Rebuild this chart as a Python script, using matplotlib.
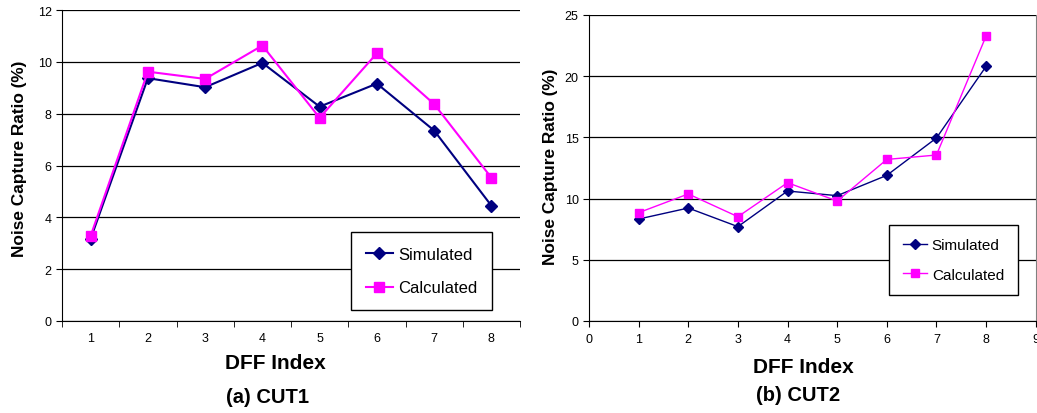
import matplotlib
matplotlib.use('Agg')
import matplotlib.pyplot as plt

# data
dff = [1, 2, 3, 4, 5, 6, 7, 8]
cut1_sim = [3.17, 9.37, 9.02, 9.96, 8.27, 9.16, 7.35, 4.45]
cut1_calc = [3.28, 9.62, 9.34, 10.63, 7.84, 10.33, 8.37, 5.53]
cut2_sim = [8.33, 9.23, 7.71, 10.62, 10.24, 11.9, 14.95, 20.8]
cut2_calc = [8.85, 10.38, 8.52, 11.3, 9.8, 13.2, 13.56, 23.28]

plt.rcParams['font.family'] = ['Liberation Sans', 'DejaVu Sans']
navy = '#000080'
pink = '#FF00FF'

fig = plt.figure(figsize=(10.37, 4.14), dpi=100)

# (a) CUT1 - category style axis
ax1 = fig.add_axes([62/1037, 92/414, 458/1037, 311/414])
ax1.plot(dff, cut1_sim, color=navy, lw=1.5, marker='D', ms=6.5, label='Simulated', zorder=3)
ax1.plot(dff, cut1_calc, color=pink, lw=1.5, marker='s', ms=6.5, label='Calculated', zorder=3)
ax1.set_xlim(0.5, 8.5)
ax1.set_ylim(0, 12)
ax1.set_yticks(range(0, 13, 2))
ax1.set_xticks(dff)
ax1.set_xticks([x + 0.5 for x in range(0, 9)], minor=True)
ax1.tick_params(axis='x', which='major', length=0, labelsize=9, pad=8)
ax1.tick_params(axis='x', which='minor', length=4, direction='out')
ax1.tick_params(axis='y', length=4, labelsize=9)
ax1.grid(axis='y', color='black', lw=0.9)
ax1.set_axisbelow(True)
for s in ['top', 'right']:
    ax1.spines[s].set_visible(False)
ax1.set_ylabel('Noise Capture Ratio (%)', fontsize=12.4, fontweight='bold')
ax1.yaxis.set_label_coords(-0.076, 0.524)
ax1.set_xlabel('DFF Index', fontsize=15, fontweight='bold')
ax1.xaxis.set_label_coords(0.465, -0.103)
leg1 = ax1.legend(loc='upper right', bbox_to_anchor=(0.939, 0.286), fancybox=False,
                  edgecolor='black', framealpha=1, fontsize=12, handlelength=1.6,
                  borderpad=0.9, labelspacing=1.1, handletextpad=0.3, borderaxespad=0)
leg1.get_frame().set_linewidth(1.0)
fig.text(267/1037, 1 - 397.5/414, '(a) CUT1', ha='center', va='center', fontsize=14.5, fontweight='bold')

# (b) CUT2 - value axis
ax2 = fig.add_axes([589/1037, 92/414, 446.7/1037, 306/414])
ax2.plot(dff, cut2_sim, color=navy, lw=1.0, marker='D', ms=5.5, label='Simulated', zorder=3)
ax2.plot(dff, cut2_calc, color=pink, lw=1.0, marker='s', ms=5.5, label='Calculated', zorder=3)
ax2.set_xlim(0, 9)
ax2.set_ylim(0, 25)
ax2.set_xticks(range(0, 10))
ax2.set_yticks(range(0, 26, 5))
ax2.tick_params(axis='x', length=4, labelsize=9, pad=5)
ax2.tick_params(axis='y', length=4, labelsize=9)
ax2.grid(axis='y', color='black', lw=0.9)
ax2.set_axisbelow(True)
ax2.spines['top'].set_visible(False)
ax2.spines['right'].set_color('#808080')
ax2.set_ylabel('Noise Capture Ratio (%)', fontsize=12.4, fontweight='bold')
ax2.yaxis.set_label_coords(-0.069, 0.507)
ax2.set_xlabel('DFF Index', fontsize=15, fontweight='bold')
ax2.xaxis.set_label_coords(0.479, -0.118)
leg2 = ax2.legend(loc='upper right', bbox_to_anchor=(0.960, 0.315), fancybox=False,
                  edgecolor='black', framealpha=1, fontsize=11, handlelength=1.6,
                  borderpad=0.9, labelspacing=1.0, handletextpad=0.3, borderaxespad=0)
leg2.get_frame().set_linewidth(1.0)
fig.text(798/1037, 1 - 396/414, '(b) CUT2', ha='center', va='center', fontsize=14.5, fontweight='bold')

plt.savefig('out.png', dpi=100)
